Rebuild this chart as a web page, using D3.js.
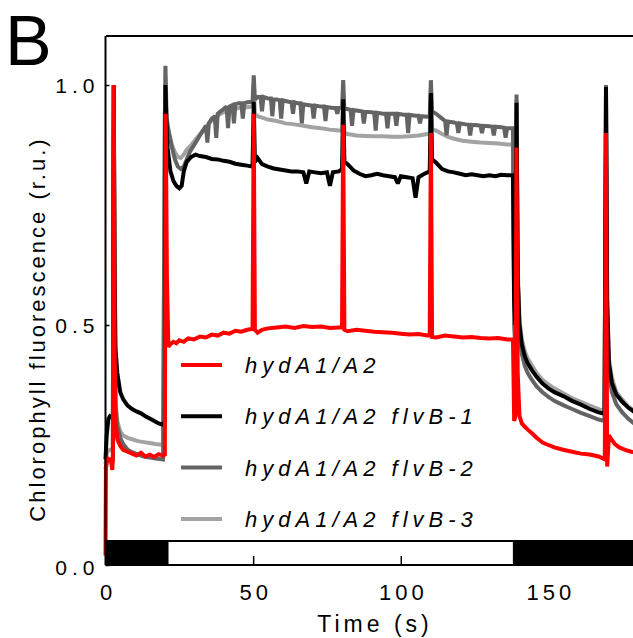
<!DOCTYPE html>
<html><head><meta charset="utf-8">
<script src="https://cdn.jsdelivr.net/npm/d3@7"></script>
<style>body{margin:0;background:#fff}svg{display:block}text{font-family:"Liberation Sans",Arial,sans-serif}</style>
</head><body><svg id="c" width="633" height="638"></svg>
<script>
// ---- data (time in s, fluorescence in r.u.) ----
const tRed = [0,0.15,0.5,1,1.5,2,2.3,2.5,2.8,3.1,3.4,4,5,6,7.5,9,10.5,12,13.5,15,16.5,18,19.5,20.1,20.4,20.8,21.3,22,23,24,25,26.5,28,30,32,34,36,38,40,42,44,46,48,49.8,50.2,50.6,51.5,53,55,58,61,64,67,70,73,76,79,80.1,80.5,80.9,82,85,88,91,94,97,100,103,106,109,109.8,110.2,110.6,112,115,118,121,124,127,130,133,136,138,138.4,138.8,139.2,139.6,140.2,141,142,143,144.5,146,148,150,152,155,158,161,164,167,169.1,169.5,169.9,170.5,171.3,172.5,174,176,178,180];
const hydA1A2 = [0.02,0.20,0.225,0.215,0.222,0.212,0.198,0.23,1.0,0.45,0.3,0.262,0.248,0.24,0.236,0.232,0.228,0.234,0.226,0.23,0.225,0.231,0.228,0.23,0.94,0.6,0.455,0.46,0.465,0.462,0.468,0.465,0.472,0.47,0.476,0.474,0.48,0.478,0.484,0.482,0.488,0.486,0.49,0.492,0.94,0.49,0.484,0.49,0.493,0.495,0.497,0.494,0.498,0.496,0.497,0.494,0.495,0.495,0.917,0.49,0.487,0.49,0.488,0.486,0.485,0.484,0.482,0.48,0.481,0.478,0.478,0.90,0.475,0.474,0.478,0.476,0.474,0.475,0.473,0.472,0.473,0.47,0.47,0.30,0.31,0.87,0.40,0.31,0.295,0.288,0.282,0.274,0.265,0.255,0.25,0.245,0.24,0.236,0.232,0.23,0.226,0.22,0.90,0.205,0.27,0.262,0.252,0.245,0.24,0.236,0.234];

const tB1 = [0,0.4,1,1.5,2,2.5,2.8,3.1,3.4,4,5,6,7.5,9,10.5,12,13.5,15,16.5,18,19.5,20.1,20.3,20.6,21,22,23,24,25,25.8,26.5,27.5,29,30.5,32,34,36,38,40,42,44,46,48,49.8,50.2,50.6,51.5,53,55,57,59,61,63,65,67,68,69,71,73,75,76,77,79,80.1,80.5,80.9,82,84,86,88,90,92,94,96,98,99,100,102,104,105,106,108,109.8,110.2,110.6,112,114,116,118,120,122,124,126,128,130,132,134,136,138,138.4,138.8,139.2,139.6,140.2,141,142,143,144.5,146,148,150,152,155,158,161,164,167,169,169.5,169.9,170.5,171.5,173,175,177,180];
const flvB1 = [0.22,0.27,0.305,0.31,0.308,0.31,1.0,0.6,0.45,0.40,0.36,0.345,0.332,0.325,0.32,0.316,0.31,0.305,0.30,0.295,0.292,0.30,1.0,0.93,0.87,0.82,0.80,0.79,0.785,0.79,0.82,0.84,0.85,0.855,0.852,0.85,0.846,0.845,0.842,0.84,0.836,0.834,0.832,0.83,0.965,0.84,0.848,0.835,0.83,0.826,0.824,0.822,0.82,0.82,0.818,0.795,0.82,0.818,0.816,0.818,0.79,0.818,0.82,0.825,0.97,0.84,0.835,0.822,0.815,0.81,0.812,0.815,0.812,0.81,0.808,0.795,0.81,0.808,0.806,0.765,0.808,0.815,0.82,0.983,0.845,0.838,0.825,0.82,0.818,0.815,0.812,0.814,0.812,0.81,0.812,0.81,0.813,0.812,0.812,0.55,0.50,0.963,0.60,0.50,0.46,0.435,0.42,0.405,0.392,0.378,0.368,0.36,0.352,0.342,0.334,0.325,0.318,0.315,0.996,0.55,0.42,0.38,0.355,0.34,0.328,0.315];

const tB2 = [0,0.5,1.5,2.5,2.8,3.1,3.4,4,5,6,7.5,9,11,13,15,17,19.5,20.1,20.3,20.7,21.5,22.5,23.5,24.5,25.5,26.5,27.5,28.5,30,31.5,33,34,34.5,35,36,37,37.5,38,39,40,41,41.5,42,43,43.5,44,45,46,46.5,47,48,49.8,50.2,50.6,51.5,52.5,53,53.5,55,56,56.5,57,58,59,59.5,60,62,63,63.5,64,65,66,66.5,67,69,70,70.5,71,73,74,74.5,75,77,78,78.5,79,80.1,80.5,80.9,82,83,83.5,84,86,87,87.5,88,90,91,91.5,92,94,95,95.5,96,98,98.5,99,101,102,102.5,103,105,106,106.5,107,109,109.8,110.2,110.6,112,114,115,115.5,116,118,119,119.5,120,122,123,123.5,124,126,127,127.5,128,130,131,131.5,132,134,135,135.5,136,138,138.4,138.8,139.2,139.6,140.2,141,142,143,144.5,146,148,150,152,155,158,161,164,167,169,169.5,169.9,170.5,171.5,173,175,177,180];
const flvB2 = [0.20,0.215,0.22,0.218,1.0,0.5,0.33,0.29,0.265,0.252,0.24,0.235,0.23,0.226,0.224,0.222,0.22,0.93,1.04,0.93,0.90,0.87,0.845,0.83,0.825,0.83,0.845,0.86,0.875,0.89,0.905,0.915,0.88,0.92,0.93,0.935,0.89,0.94,0.945,0.95,0.955,0.91,0.955,0.958,0.92,0.96,0.962,0.962,0.93,0.962,0.964,0.965,1.02,0.97,0.975,0.975,0.945,0.975,0.972,0.972,0.935,0.97,0.97,0.968,0.93,0.968,0.965,0.964,0.94,0.964,0.962,0.962,0.92,0.96,0.958,0.957,0.93,0.957,0.955,0.955,0.925,0.954,0.952,0.952,0.94,0.952,0.953,1.01,0.95,0.95,0.948,0.915,0.948,0.946,0.945,0.92,0.944,0.943,0.942,0.905,0.942,0.94,0.94,0.91,0.94,0.94,0.915,0.94,0.938,0.938,0.90,0.938,0.936,0.936,0.92,0.935,0.934,0.935,1.01,0.945,0.94,0.93,0.925,0.895,0.924,0.922,0.92,0.90,0.92,0.918,0.917,0.895,0.917,0.916,0.915,0.90,0.915,0.914,0.913,0.895,0.913,0.912,0.911,0.89,0.91,0.91,0.50,0.45,0.98,0.60,0.48,0.44,0.415,0.40,0.385,0.372,0.36,0.35,0.342,0.333,0.325,0.317,0.31,0.303,0.30,1.0,0.50,0.40,0.36,0.335,0.318,0.305,0.29];

const tB3 = [0,0.5,1.5,2.5,2.8,3.1,3.4,4,5,6,7.5,9,11,13,15,17,19.5,20.1,20.3,20.7,21.5,22.5,23.5,24.5,25.5,26.5,27.5,29,31,33,35,37,39,41,43,45,47,49.8,50.2,50.6,51.5,53,55,58,61,64,67,70,73,76,79,80.1,80.5,80.9,82,85,88,91,94,97,100,103,106,109,109.8,110.2,110.6,112,114,116,118,121,124,127,130,133,136,138,138.4,138.8,139.2,139.6,140.2,141,142,143,144.5,146,148,150,152,155,158,161,164,167,169,169.5,169.9,170.5,171.5,173,175,177,180];
const flvB3 = [0.21,0.235,0.24,0.242,1.0,0.5,0.34,0.30,0.278,0.27,0.265,0.262,0.258,0.256,0.254,0.252,0.25,0.93,1.0,0.92,0.90,0.875,0.86,0.85,0.848,0.855,0.865,0.875,0.89,0.905,0.92,0.932,0.94,0.946,0.95,0.952,0.953,0.955,1.0,0.94,0.935,0.932,0.928,0.925,0.92,0.918,0.915,0.912,0.91,0.907,0.905,0.905,0.98,0.90,0.898,0.895,0.894,0.893,0.893,0.892,0.892,0.893,0.895,0.898,0.90,0.99,0.908,0.905,0.898,0.892,0.888,0.884,0.882,0.88,0.879,0.878,0.876,0.876,0.52,0.47,0.97,0.62,0.51,0.47,0.445,0.43,0.415,0.40,0.386,0.376,0.368,0.358,0.348,0.34,0.332,0.325,0.32,0.99,0.55,0.43,0.39,0.36,0.345,0.33,0.318];

const seriesNames = ["hydA1/A2", "hydA1/A2 flvB-1", "hydA1/A2 flvB-2", "hydA1/A2 flvB-3"];
const seriesColors = ["#ff0000", "#000000", "#646464", "#a3a3a3"];
const xTicks = [0, 50, 100, 150];
const yTicks = [0.0, 0.5, 1.0];
const darkPeriods = [[0, 21], [138.3, 180]];
const lightPeriod = [21, 138.3];

// ---- layout ----
const svg = d3.select("#c");
const x = d3.scaleLinear().domain([0, 180]).range([105.5, 637]);
const y = d3.scaleLinear().domain([0, 1.1]).range([565, 37]);

// frame
svg.append("line").attr("x1", 106).attr("x2", 633).attr("y1", 36).attr("y2", 36).attr("stroke", "#000").attr("stroke-width", 2);

const data = [
  {t: tB3, v: flvB3, c: seriesColors[3]},
  {t: tB2, v: flvB2, c: seriesColors[2]},
  {t: tB1, v: flvB1, c: seriesColors[1]},
  {t: tRed, v: hydA1A2, c: seriesColors[0]}
];
const line = d3.line().x(d => x(d[0])).y(d => y(d[1]));
data.forEach(s => {
  svg.append("path").datum(s.t.map((t, i) => [t, s.v[i]]))
    .attr("d", line).attr("fill", "none").attr("stroke", s.c)
    .attr("stroke-width", 4).attr("stroke-linejoin", "miter").attr("stroke-miterlimit", 2);
});

// light/dark bar
const barTop = y(0.05), barBot = y(0);
svg.append("rect").attr("x", x(lightPeriod[0])).attr("y", barTop).attr("width", x(lightPeriod[1]) - x(lightPeriod[0])).attr("height", barBot - barTop)
  .attr("fill", "#fff").attr("stroke", "#000").attr("stroke-width", 2);
darkPeriods.forEach(p => {
  svg.append("rect").attr("x", x(p[0])).attr("y", barTop - 1).attr("width", x(p[1]) - x(p[0])).attr("height", barBot - barTop + 1).attr("fill", "#000");
});

// axes
const xAxis = svg.append("g").attr("transform", `translate(0,${y(0)})`)
  .call(d3.axisBottom(x).tickValues(xTicks).tickSizeInner(-9).tickSizeOuter(0).tickPadding(19).tickFormat(d3.format("d")));
xAxis.select(".domain").attr("stroke-width", 2).attr("d", `M${x(0)},0H633`);
xAxis.selectAll(".tick line").attr("stroke-width", 1.5);
xAxis.selectAll("text").attr("font-size", 22).attr("letter-spacing", "4px").attr("dx", 2).attr("fill", "#000");

const yAxis = svg.append("g").attr("transform", `translate(${x(0)},0)`)
  .call(d3.axisLeft(y).tickValues(yTicks).tickSizeInner(-4).tickSizeOuter(0).tickPadding(8).tickFormat(d3.format(".1f")));
yAxis.select(".domain").attr("stroke-width", 2).attr("d", `M0,36V${y(0)}`);
yAxis.selectAll(".tick line").attr("stroke-width", 1.5);
yAxis.selectAll("text").attr("font-size", 21).attr("letter-spacing", "5px").attr("dx", 2).attr("dy", "0.35em").attr("fill", "#000");
yAxis.selectAll(".tick").filter(d => d === 0).select("text").attr("dy", "0.45em");

svg.selectAll(".domain, .tick line").attr("stroke", "#000");

// axis titles
svg.append("text").attr("x", 375).attr("y", 632).attr("text-anchor", "middle").attr("font-size", 23).attr("letter-spacing", "4px").text("Time (s)");
svg.append("text").attr("transform", "translate(45,329) rotate(-90)").attr("text-anchor", "middle").attr("font-size", 22).attr("letter-spacing", "3px").text("Chlorophyll fluorescence (r.u.)");

// panel letter
svg.append("text").attr("x", 5).attr("y", 65).attr("font-size", 70).text("B");

// legend
const lg = svg.append("g");
seriesNames.forEach((n, i) => {
  const yy = 365 + i * 51.3;
  lg.append("line").attr("x1", 181).attr("x2", 222).attr("y1", yy).attr("y2", yy).attr("stroke", seriesColors[i]).attr("stroke-width", 4);
  lg.append("text").attr("x", 245).attr("y", yy + 8).attr("font-size", 22).attr("font-style", "italic").attr("letter-spacing", "5px").text(n);
});
</script></body></html>
